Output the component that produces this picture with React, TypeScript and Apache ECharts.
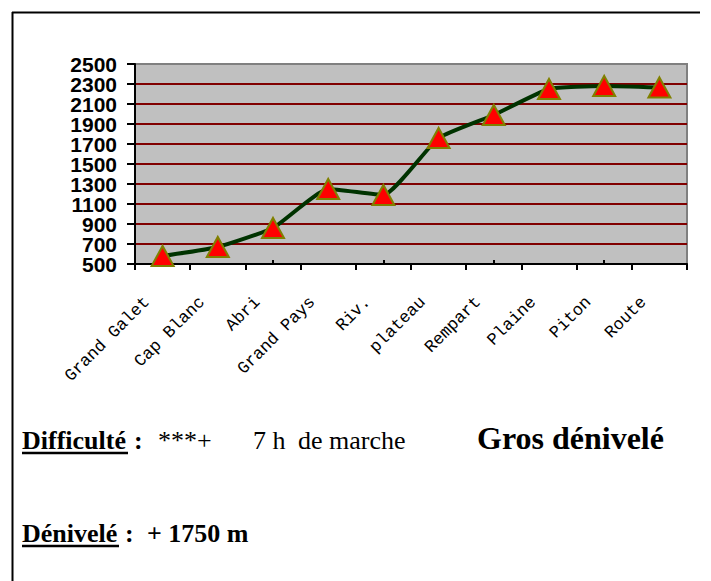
import React, { useEffect, useRef } from "react";
import * as echarts from "echarts";

const categories = ["Grand Galet", "Cap Blanc", "Abri", "Grand Pays", "Riv.", "plateau", "Rempart", "Plaine", "Piton", "Route"];
const altitudes = [580, 670, 860, 1250, 1190, 1760, 1990, 2250, 2280, 2265];
const yMin = 500;
const yMax = 2500;
const yStep = 200;

const serif = "'Liberation Serif', 'Times New Roman', serif";

const yLabelStyle = {
  margin: 18,
  fontFamily: "'Liberation Sans', Arial, sans-serif",
  fontWeight: "bold",
  fontSize: 21,
  color: "#000",
  hideOverlap: false,
};

const stepIndex = (v: number) => Math.round((v - yMin) / yStep);

export default function App() {
  const ref = useRef<HTMLDivElement>(null);
  useEffect(() => {
    if (!ref.current) return;
    const chart = echarts.init(ref.current, undefined, { renderer: "svg" });
    chart.setOption({
      animation: false,
      backgroundColor: "#ffffff",
      grid: {
        left: 135,
        top: 64,
        width: 552,
        height: 200,
        show: true,
        backgroundColor: "#c0c0c0",
        borderColor: "#808080",
        borderWidth: 2,
        containLabel: false,
        outerBoundsMode: "none",
      },
      xAxis: [
        {
          type: "category",
          data: categories,
          boundaryGap: true,
          position: "bottom",
          axisLine: { show: true, lineStyle: { color: "#000", width: 2 } },
          axisTick: { show: true, inside: false, length: 6, lineStyle: { color: "#000", width: 2 } },
          axisLabel: {
            interval: 0,
            rotate: 45,
            margin: 20,
            padding: [0, 22, 0, 0],
            fontFamily: "'Liberation Mono', 'Courier New', monospace",
            fontSize: 17,
            color: "#000",
          },
          splitLine: { show: false },
        },
        {
          type: "category",
          data: categories,
          boundaryGap: true,
          position: "bottom",
          axisLine: { show: false },
          axisTick: { show: true, inside: true, alignWithLabel: true, length: 4, lineStyle: { color: "#000", width: 2 } },
          axisLabel: { show: false },
          splitLine: { show: false },
        },
      ],
      yAxis: [
        {
          type: "value",
          min: yMin,
          max: yMax,
          interval: yStep,
          position: "left",
          axisLine: { show: true, lineStyle: { color: "#000", width: 2 } },
          axisTick: { show: true, inside: false, length: 8, lineStyle: { color: "#000", width: 2 } },
          axisLabel: {
            ...yLabelStyle,
            showMinLabel: true,
            showMaxLabel: true,
            formatter: (v: number) => (stepIndex(v) % 2 === 0 ? String(v) : ""),
          },
          splitLine: {
            show: true,
            showMinLine: false,
            showMaxLine: false,
            lineStyle: { color: "#800000", width: 2 },
          },
        },
        {
          type: "value",
          min: yMin,
          max: yMax,
          interval: yStep,
          position: "left",
          offset: 0,
          axisLine: { show: false },
          axisTick: { show: false },
          axisLabel: {
            ...yLabelStyle,
            showMinLabel: false,
            showMaxLabel: false,
            formatter: (v: number) => (stepIndex(v) % 2 === 1 ? String(v) : ""),
          },
          splitLine: { show: false },
        },
      ],
      series: [
        {
          type: "line",
          data: altitudes,
          xAxisIndex: 0,
          yAxisIndex: 0,
          smooth: 0.15,
          lineStyle: { color: "#003300", width: 4 },
          symbol: "triangle",
          symbolSize: [22, 20],
          itemStyle: { color: "#ff0000", borderColor: "#808000", borderWidth: 2 },
          z: 5,
        },
      ],
      graphic: [
        { type: "line", shape: { x1: 12, y1: 12.5, x2: 700, y2: 12.5 }, style: { stroke: "#000", lineWidth: 2 } },
        { type: "line", shape: { x1: 12.5, y1: 12, x2: 12.5, y2: 581 }, style: { stroke: "#000", lineWidth: 2 } },
        { type: "text", x: 22, y: 440, style: { text: "Difficulté", font: `bold 26px ${serif}`, fill: "#000", verticalAlign: "middle" } },
        { type: "line", shape: { x1: 22, y1: 453, x2: 128, y2: 453 }, style: { stroke: "#000", lineWidth: 2.5 } },
        { type: "text", x: 134, y: 440, style: { text: ":", font: `bold 26px ${serif}`, fill: "#000", verticalAlign: "middle" } },
        { type: "text", x: 158, y: 440, style: { text: "***+", font: `26px ${serif}`, fill: "#000", verticalAlign: "middle" } },
        { type: "text", x: 253, y: 440, style: { text: "7 h", font: `26px ${serif}`, fill: "#000", verticalAlign: "middle" } },
        { type: "text", x: 298, y: 440, style: { text: "de marche", font: `26px ${serif}`, fill: "#000", verticalAlign: "middle" } },
        { type: "text", x: 477, y: 438, style: { text: "Gros dénivelé", font: `bold 32px ${serif}`, fill: "#000", verticalAlign: "middle" } },
        { type: "text", x: 22, y: 533, style: { text: "Dénivelé", font: `bold 26px ${serif}`, fill: "#000", verticalAlign: "middle" } },
        { type: "line", shape: { x1: 22, y1: 546, x2: 119, y2: 546 }, style: { stroke: "#000", lineWidth: 2.5 } },
        { type: "text", x: 125, y: 533, style: { text: ":", font: `bold 26px ${serif}`, fill: "#000", verticalAlign: "middle" } },
        { type: "text", x: 147, y: 533, style: { text: "+ 1750 m", font: `bold 26px ${serif}`, fill: "#000", verticalAlign: "middle" } },
      ],
    });
    return () => chart.dispose();
  }, []);
  return <div ref={ref} style={{ position: "absolute", left: 0, top: 0, width: 711, height: 581 }} />;
}
